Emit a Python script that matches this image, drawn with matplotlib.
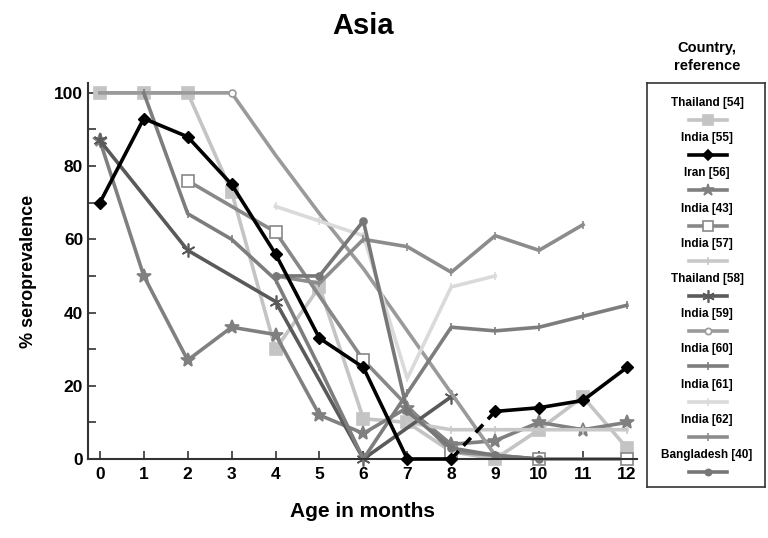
import numpy as np
import matplotlib.pyplot as plt

plt.rcParams['font.family'] = ['Liberation Sans Narrow', 'Liberation Sans', 'DejaVu Sans']
plt.rcParams['font.weight'] = 'bold'

months = np.arange(13)

# values (% seropositive per month of age)
thailand54 = [100, 100, 100, 73, 30, 47, 11, 10, 2, 0, 8, 17, 3]
india55 = [70, 93, 88, 75, 56, 33, 25, 0, 0, 13, 14, 16, 25]
iran56 = [87, 50, 27, 36, 34, 12, 7, 14, 4, 5, 10, 8, 10]
india43_x = [2, 4, 6, 8, 10, 12]
india43 = [76, 62, 27, 2, 0, 0]
india57_x = [7, 8, 9, 10, 11, 12]
india57 = [10, 8, 8, 8, 8, 8]
thailand58_x = [0, 2, 4, 6, 8]
thailand58 = [87, 57, 43, 0, 17]
india59_x = [0, 1, 2, 3, 4, 5, 6, 7, 8, 9]
india59 = [100, 100, 100, 100, 83, 67, 52, 35, 18, 1]
india60_x = [1, 2, 3, 4, 5, 6, 7, 8, 9, 10, 11, 12]
india60 = [100, 67, 60, 49, 25, 0, 18, 36, 35, 36, 39, 42]
india61_x = [4, 5, 6, 7, 8, 9]
india61 = [69, 65, 61, 22, 47, 50]
india62_x = [4, 5, 6, 7, 8, 9, 10, 11]
india62 = [50, 48, 60, 58, 51, 61, 57, 64]
bangla40_x = [4, 5, 6, 7, 8, 9, 10]
bangla40 = [50, 50, 65, 13, 3, 1, 0]

# name, x, y, colour, marker, marker size, marker face
series = [
    ('Thailand [54]', months, thailand54, '#c4c4c4', 's', 8, '#c4c4c4'),
    ('India [55]', months, india55, '#000000', 'D', 6, '#000000'),
    ('Iran [56]', months, iran56, '#808080', '*', 10, '#808080'),
    ('India [43]', india43_x, india43, '#888888', 's', 8, 'white'),
    ('India [57]', india57_x, india57, '#c8c8c8', '|', 6, '#c8c8c8'),
    ('Thailand [58]', thailand58_x, thailand58, '#5a5a5a', (6, 2, 0), 10, '#5a5a5a'),
    ('India [59]', india59_x, india59, '#9a9a9a', 'o', 5, 'white'),
    ('India [60]', india60_x, india60, '#7d7d7d', '|', 6, '#7d7d7d'),
    ('India [61]', india61_x, india61, '#dadada', '|', 6, '#dadada'),
    ('India [62]', india62_x, india62, '#8c8c8c', '|', 6, '#8c8c8c'),
    ('Bangladesh [40]', bangla40_x, bangla40, '#777777', 'o', 5, '#777777'),
]

fig = plt.figure(figsize=(7.68, 5.38), dpi=100)
ax = fig.add_axes([88/768, 79/538, 549/768, 376/538])

for name, x, y, c, m, ms, mf in series:
    x = list(x)
    y = list(y)
    if name == 'India [55]':
        # 8 -> 9 months drawn dashed
        ax.plot(x[:9], y[:9], color=c, lw=2.6, marker=m, ms=ms, mfc=mf, mec=c, clip_on=False, zorder=5)
        ax.plot(x[8:10], y[8:10], color=c, lw=2.6, ls=(0, (3, 2)), clip_on=False, zorder=5)
        ax.plot(x[9:], y[9:], color=c, lw=2.6, marker=m, ms=ms, mfc=mf, mec=c, clip_on=False, zorder=5)
    elif name == 'India [59]':
        ax.plot(x, y, color=c, lw=2.6, marker=m, ms=ms, mfc=mf, mec=c, mew=1.2, markevery=[3], clip_on=False)
    else:
        ax.plot(x, y, color=c, lw=2.6, marker=m, ms=ms, mfc=mf, mec=c, mew=1.2, clip_on=False)

ax.set_xlim(-0.27, 12.23)
ax.set_ylim(0, 102.7)
ax.set_xticks(months)
ax.set_yticks([0, 20, 40, 60, 80, 100])
ax.set_yticks([10, 30, 50, 70, 90], minor=True)
ax.tick_params(axis='both', direction='in', length=6, width=1.2, labelsize=12.5, color='#333333')
ax.tick_params(axis='y', which='minor', direction='in', length=6, width=1.2, color='#333333')
ax.tick_params(axis='x', pad=6)
for lab in ax.get_xticklabels() + ax.get_yticklabels():
    lab.set_fontweight('bold')
for s in ['top', 'right']:
    ax.spines[s].set_visible(False)
for s in ['left', 'bottom']:
    ax.spines[s].set_linewidth(1.5)
    ax.spines[s].set_color('#333333')

ax.set_xlabel('Age in months', fontsize=15, fontweight='bold', labelpad=14)
ax.set_ylabel('% seroprevalence', fontsize=13, fontweight='bold', labelpad=12)
fig.text(363/768, 1 - 26/538, 'Asia', ha='center', va='center', fontsize=21, fontweight='bold')

# legend panel: label above a short line sample
lg = fig.add_axes([647/768, 51/538, 118/768, 404/538])
lg.set_xlim(647, 765)
lg.set_ylim(487, 83)
lg.set_xticks([])
lg.set_yticks([])
for s in lg.spines.values():
    s.set_linewidth(1.2)
    s.set_color('#333333')
for i, (name, x, y, c, m, ms, mf) in enumerate(series):
    ty = 103 + 35.2 * i
    lg.text(707, ty, name, ha='center', va='center', fontsize=8.5, fontweight='bold')
    lg.plot([689, 727], [ty + 17, ty + 17], color=c, lw=2.6)
    lg.plot([708], [ty + 17], color=c, marker=m, ms=ms * 0.9, mfc=mf, mec=c, mew=1.2)

fig.text(707/768, 1 - 57/538, 'Country,\nreference', ha='center', va='center', fontsize=10.5,
         fontweight='bold', linespacing=1.3)

fig.savefig('out.png', dpi=100)
